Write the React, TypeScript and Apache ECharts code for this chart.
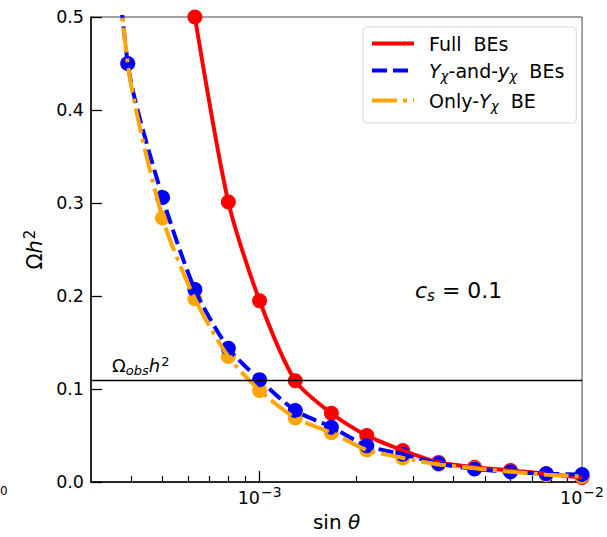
import React, { useEffect, useRef } from "react";
import * as echarts from "echarts";

// sin(theta) sample points
const SIN_THETA = [3.1e-4, 3.9e-4, 5.0e-4, 6.3e-4, 8.0e-4, 1.0e-3, 1.29e-3, 1.67e-3, 2.15e-3, 2.78e-3, 3.59e-3, 4.64e-3, 6.0e-3, 7.74e-3, 1.0e-2];
// Omega h^2 values
const FULL_BES: (number | null)[] = [null, null, null, 0.5, 0.301, 0.195, 0.109, 0.074, 0.05, 0.034, 0.021, 0.016, 0.0125, 0.009, 0.005];
const Y_AND_y_BES: (number | null)[] = [0.85, 0.45, 0.306, 0.207, 0.144, 0.11, 0.077, 0.059, 0.039, 0.03, 0.02, 0.014, 0.011, 0.009, 0.0082];
const ONLY_Y_BE: (number | null)[] = [0.84, 0.45, 0.284, 0.197, 0.135, 0.0986, 0.069, 0.053, 0.0345, 0.026, 0.019, 0.015, 0.011, 0.008, 0.006];

const OMEGA_OBS = 0.11;
const X_MIN = 3e-4;
const X_MAX = 1e-2;
const X_MAJOR = [1e-3, 1e-2];
const X_MINOR = [4e-4, 5e-4, 6e-4, 7e-4, 8e-4, 9e-4, 2e-3, 3e-3, 4e-3, 5e-3, 6e-3, 7e-3, 8e-3, 9e-3];
const Y_MIN = 0;
const Y_MAX = 0.5;
const Y_STEP = 0.1;

const NAMES = ["Full  BEs", "Yχ-and-yχ  BEs", "Only-Yχ  BE"];
const COLORS = ["#ff0000", "#0000ff", "#ffa500"];
const LEGEND_RICH: Record<string, string> = {
  "Full  BEs": "{t|Full  BEs}",
  "Yχ-and-yχ  BEs": "{i|Y}{s|χ}{t|-and-}{i|y}{s|χ}{t|  BEs}",
  "Only-Yχ  BE": "{t|Only-}{i|Y}{s|χ}{t|  BE}",
};

const FONT = "DejaVu Sans";
const lg = (v: number) => Math.log10(v);

function pairs(vals: (number | null)[]) {
  const out: [number, number][] = [];
  vals.forEach((v, i) => {
    if (v !== null) out.push([lg(SIN_THETA[i]), v]);
  });
  return out;
}

export default function App() {
  const ref = useRef<HTMLDivElement>(null);
  useEffect(() => {
    if (!ref.current) return;
    const chart = echarts.init(ref.current, null, { renderer: "svg" });
    const seriesVals = [FULL_BES, Y_AND_y_BES, ONLY_Y_BE];
    const scatterOrder = [0, 2, 1];
    const dashes: any[] = ["solid", [15, 6], [25, 6, 4, 6]];
    const scatters = scatterOrder.map((k) => ({
      type: "scatter",
      name: "pts" + k,
      data: pairs(seriesVals[k]),
      symbol: "circle",
      symbolSize: 15,
      itemStyle: { color: COLORS[k], opacity: 1 },
      clip: true,
      silent: true,
      z: 2,
    }));
    const lines = [0, 1, 2].map((k) => ({
      type: "line",
      name: NAMES[k],
      data: pairs(seriesVals[k]),
      smooth: 0.25,
      symbol: "none",
      showSymbol: false,
      clip: true,
      silent: true,
      lineStyle: { color: COLORS[k], width: 4, type: dashes[k] },
      itemStyle: { color: COLORS[k] },
      z: 3,
      ...(k === 0
        ? {
            markLine: {
              silent: true,
              symbol: ["none", "none"],
              animation: false,
              data: [{ yAxis: OMEGA_OBS }],
              lineStyle: { color: "#000", width: 1.3, type: "solid" },
              label: {
                show: true,
                position: "insideStartTop",
                distance: [21, 3],
                formatter: "{n|Ω}{sub|obs}{i|h}{sup|2}",
                rich: {
                  n: { fontFamily: FONT, fontSize: 18, color: "#000", lineHeight: 22 },
                  i: { fontFamily: FONT, fontSize: 18, fontStyle: "italic", color: "#000", lineHeight: 22 },
                  sub: { fontFamily: FONT, fontSize: 13, fontStyle: "italic", color: "#000", lineHeight: 12, verticalAlign: "bottom" },
                  sup: { fontFamily: FONT, fontSize: 13, color: "#000", lineHeight: 12, verticalAlign: "top", padding: [0, 0, 0, 1] },
                },
              },
            },
          }
        : {}),
    }));

    const axisRich = {
      b: { fontFamily: FONT, fontSize: 17.5, color: "#000", lineHeight: 22, verticalAlign: "bottom" },
      sup: { fontFamily: FONT, fontSize: 14, color: "#000", lineHeight: 13, verticalAlign: "top", padding: [0, 0, 0, 1] },
    };

    chart.setOption({
      animation: false,
      backgroundColor: "#fff",
      grid: { left: 91, right: 22, top: 17, bottom: 52, show: true, borderColor: "#444", borderWidth: 1, backgroundColor: "transparent" },
      legend: {
        orient: "vertical",
        left: 363,
        top: 27,
        data: NAMES,
        itemWidth: 42,
        itemHeight: 14,
        itemGap: 8,
        padding: [7, 12, 10, 7],
        borderColor: "#d6d6d6",
        borderWidth: 1,
        borderRadius: 4,
        backgroundColor: "rgba(255,255,255,0.85)",
        selectedMode: false,
        itemStyle: { opacity: 0 },
        lineStyle: { width: 4 },
        formatter: (n: string) => LEGEND_RICH[n] || n,
        textStyle: {
          fontFamily: FONT,
          fontSize: 19,
          color: "#000",
          padding: [0, 0, 0, 10],
          rich: {
            t: { fontFamily: FONT, fontSize: 19, color: "#000", lineHeight: 25 },
            i: { fontFamily: FONT, fontSize: 19, fontStyle: "italic", color: "#000", lineHeight: 25 },
            s: { fontFamily: FONT, fontSize: 13.5, fontStyle: "italic", color: "#000", lineHeight: 12, verticalAlign: "bottom" },
          },
        },
      },
      xAxis: [
        {
          type: "value",
          position: "bottom",
          min: lg(X_MIN),
          max: lg(X_MAX),
          splitLine: { show: false },
          axisLine: { show: true, onZero: false, lineStyle: { color: "#000", width: 1.5 } },
          axisTick: { show: true, inside: true, length: 11, customValues: X_MAJOR.map(lg), lineStyle: { color: "#000", width: 1.3 } },
          axisLabel: {
            show: true,
            margin: 3,
            customValues: X_MAJOR.map(lg),
            formatter: (v: number) => `{b|10}{sup|−${Math.round(-v)}}`,
            rich: axisRich,
          },
          name: "{n|sin }{i|θ}",
          nameLocation: "middle",
          nameGap: 28,
          nameTextStyle: {
            rich: {
              n: { fontFamily: FONT, fontSize: 20, color: "#000" },
              i: { fontFamily: FONT, fontSize: 20, fontStyle: "italic", color: "#000" },
            },
          },
        },
        {
          type: "value",
          position: "bottom",
          min: lg(X_MIN),
          max: lg(X_MAX),
          splitLine: { show: false },
          axisLine: { show: false, onZero: false },
          axisTick: { show: true, inside: true, length: 6, customValues: X_MINOR.map(lg), lineStyle: { color: "#000", width: 1.2 } },
          axisLabel: { show: false },
        },
      ],
      yAxis: {
        type: "value",
        min: Y_MIN,
        max: Y_MAX,
        interval: Y_STEP,
        splitLine: { show: false },
        axisLine: { show: true, lineStyle: { color: "#000", width: 1.5 } },
        axisTick: { show: true, inside: true, length: 11, lineStyle: { color: "#000", width: 1.3 } },
        axisLabel: { margin: 7, fontFamily: FONT, fontSize: 17.5, color: "#000", formatter: (v: number) => v.toFixed(1) },
        name: "{n|Ω}{i|h}{sup|2}",
        nameLocation: "middle",
        nameGap: 43,
        nameRotate: 90,
        nameTextStyle: {
          rich: {
            n: { fontFamily: FONT, fontSize: 21, color: "#000", lineHeight: 24 },
            i: { fontFamily: FONT, fontSize: 21, fontStyle: "italic", color: "#000", lineHeight: 24 },
            sup: { fontFamily: FONT, fontSize: 15, color: "#000", lineHeight: 14, verticalAlign: "top", padding: [0, 0, 0, 1] },
          },
        },
      },
      graphic: [
        {
          type: "text",
          x: 415,
          y: 290,
          style: {
            text: "{i|c}{s|s}{n| = 0.1}",
            verticalAlign: "middle",
            rich: {
              i: { fontFamily: FONT, fontSize: 22, fontStyle: "italic", fill: "#000", lineHeight: 26 },
              s: { fontFamily: FONT, fontSize: 15, fontStyle: "italic", fill: "#000", lineHeight: 14, verticalAlign: "bottom" },
              n: { fontFamily: FONT, fontSize: 22, fill: "#000", lineHeight: 26 },
            },
          },
        },
        {
          type: "text",
          x: 0,
          y: 491,
          style: { text: "0", fontFamily: FONT, fontSize: 12, fill: "#000", verticalAlign: "middle" },
        },
      ],
      series: [...scatters, ...lines],
    });
    return () => chart.dispose();
  }, []);
  return <div ref={ref} style={{ width: 607, height: 537, position: "absolute", left: 0, top: 0 }} />;
}
